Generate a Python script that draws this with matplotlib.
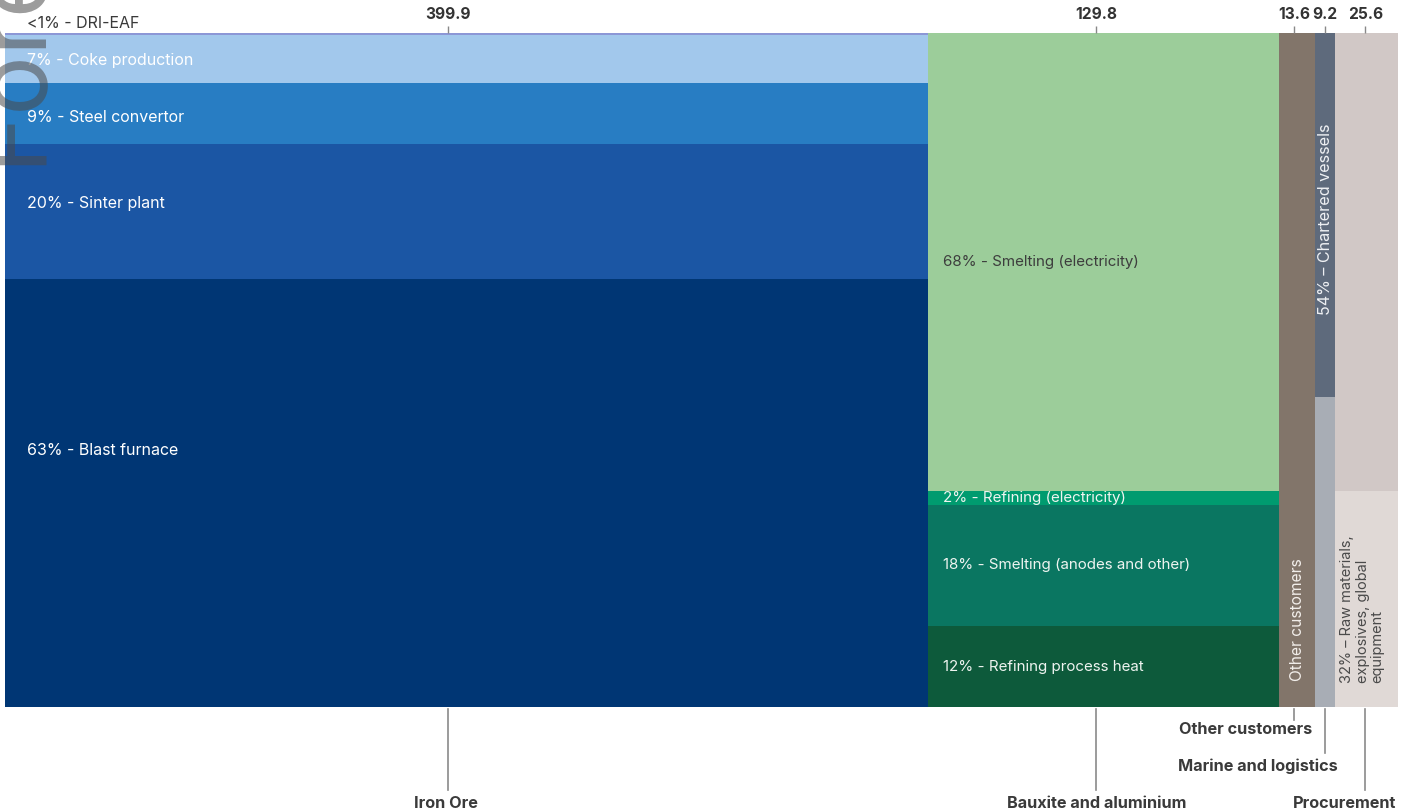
import matplotlib
matplotlib.use("Agg")
import matplotlib.pyplot as plt
import matplotlib.transforms as mtransforms

# ---------------- data ----------------
categories = ["Iron Ore", "Bauxite and aluminium", "Other customers",
              "Marine and logistics", "Procurement"]
category_values = ["399.9", "129.8", "13.6", "9.2", "25.6"]
# column widths (share of total width, %)
column_share = [66.26, 25.20, 2.58, 1.44, 4.52]

iron_shares = [0.3, 7, 9, 20, 63]
iron_labels = ["<1% - DRI-EAF", "7% - Coke production", "9% - Steel convertor",
               "20% - Sinter plant", "63% - Blast furnace"]
bauxite_shares = [68, 2, 18, 12]
bauxite_labels = ["68% - Smelting (electricity)", "2% - Refining (electricity)",
                  "18% - Smelting (anodes and other)", "12% - Refining process heat"]
other_shares = [100]
other_labels = ["Other customers"]
marine_shares = [54, 46]
marine_labels = ["54% – Chartered vessels", ""]
procurement_shares = [68, 32]
procurement_labels = ["", "32% – Raw materials,\nexplosives, global\nequipment"]

# ---------------- style ----------------
iron_colors = ["#8c97d6", "#a2c8ec", "#287dc3", "#1b56a4", "#003674"]
bauxite_colors = ["#9ccd9a", "#009b6f", "#0a7661", "#0d5a3b"]
other_colors = ["#82756a"]
marine_colors = ["#5e6a7c", "#a8adb5"]
procurement_colors = ["#d1c8c6", "#e0d9d6"]

FONT = ["Inter", "DejaVu Sans"]
plt.rcParams["font.family"] = FONT

W, H = 1407, 811
fig = plt.figure(figsize=(W / 100, H / 100), dpi=100)
left_px, right_px, top_px, bot_px = 5, 1398, 33, 707
ax = fig.add_axes([left_px / W, 1 - bot_px / H,
                   (right_px - left_px) / W, (bot_px - top_px) / H])

total_w = sum(column_share)
ax.set_xlim(0, total_w)
ax.set_ylim(100, 0)
for s in ax.spines.values():
    s.set_visible(False)
ax.set_yticks([])

columns = [
    (iron_shares, iron_labels, iron_colors),
    (bauxite_shares, bauxite_labels, bauxite_colors),
    (other_shares, other_labels, other_colors),
    (marine_shares, marine_labels, marine_colors),
    (procurement_shares, procurement_labels, procurement_colors),
]

x0 = 0
tick_pos = []
for ci, (shares, labels, colors) in enumerate(columns):
    w = column_share[ci]
    tot = sum(shares)
    y = 0
    for j, (sh, lab, col) in enumerate(zip(shares, labels, colors)):
        h = sh / tot * 100
        ax.bar(x0, h, width=w, bottom=y, align="edge", color=col,
               edgecolor="none", linewidth=0)
        if lab:
            if ci == 0:
                frac = [None, 0.54, 0.57, 0.44, 0.40][j]
                if frac is None:
                    ax.annotate(lab, (x0, 0), xytext=(22, 9),
                                textcoords="offset pixels", ha="left",
                                va="center", fontsize=11.5, color="#3a3a3a",
                                annotation_clip=False)
                else:
                    ax.annotate(lab, (x0, y + frac * h), xytext=(22, 0),
                                textcoords="offset pixels", ha="left",
                                va="center", fontsize=11.5, color="white")
            elif ci == 1:
                tc = "#3d3d3d" if j == 0 else "#eef4f0"
                ax.annotate(lab, (x0, y + h / 2), xytext=(15, 0),
                            textcoords="offset pixels", ha="left",
                            va="center", fontsize=10.9, color=tc)
            elif ci == 2:
                ax.annotate(lab, (x0 + w / 2, y + h), xytext=(0, 26),
                            textcoords="offset pixels", ha="center",
                            va="bottom", rotation=90, fontsize=11.2,
                            color="#f2eeea")
            elif ci == 3:
                ax.annotate(lab, (x0 + w / 2, y + h / 2), xytext=(0, -4),
                            textcoords="offset pixels", ha="center",
                            va="center", rotation=90, fontsize=11.6,
                            color="#eef0f3")
            else:
                ax.annotate(lab, (x0 + w / 2, y + h), xytext=(-4, 24),
                            textcoords="offset pixels", ha="center",
                            va="bottom", rotation=90, fontsize=10.5,
                            color="#4a4a4a", multialignment="left",
                            linespacing=1.1)
        y += h
    tick_pos.append(x0 + w * (0.48 if ci != 2 else 0.42))
    x0 += w

# top ticks with values
ax.xaxis.tick_top()
ax.set_xticks(tick_pos)
ax.set_xticklabels(category_values, fontsize=11.2, fontweight="bold",
                   color="#333333")
ax.tick_params(axis="x", direction="out", length=5, width=1,
               color="#888888", pad=3)

# bottom category labels with leader lines
trans = mtransforms.blended_transform_factory(ax.transData, fig.transFigure)
line_end_px = [790, 790, 720, 753, 790]
label_y_px = [803, 803, 729, 766, 803]
label_dx_px = [-2, 0, -49, -67, -21]
for i, cat in enumerate(categories):
    xp = tick_pos[i]
    ax.plot([xp, xp], [1 - 709 / H, 1 - line_end_px[i] / H], transform=trans,
            color="#8a8a8a", lw=1.2, clip_on=False)
    ax.annotate(cat, (xp, 1 - label_y_px[i] / H), xycoords=trans,
                xytext=(label_dx_px[i], 0), textcoords="offset pixels",
                ha="center", va="center", fontsize=11.7, fontweight="bold",
                color="#3a3a3a", annotation_clip=False)

# clipped watermark-like text at the left edge
fig.text(37 / W, 1 - 165 / H, "Fore", rotation=90, rotation_mode="anchor",
         ha="left", va="baseline", fontsize=72, fontweight="normal",
         color="#4a4a4a", alpha=0.55)

fig.savefig("out.png", dpi=100)
